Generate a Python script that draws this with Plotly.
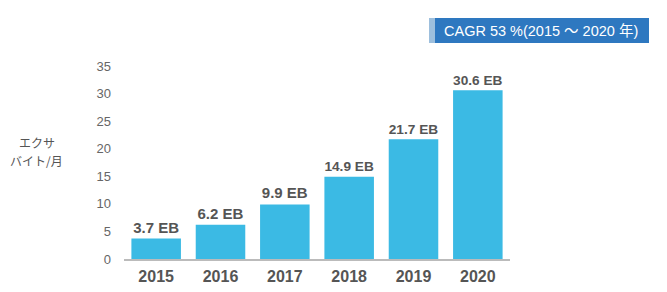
import plotly.graph_objects as go

years = ["2015", "2016", "2017", "2018", "2019", "2020"]
traffic_eb = [3.7, 6.2, 9.9, 14.9, 21.7, 30.6]
bar_labels = [f"{v} EB" for v in traffic_eb]
y_ticks = [0, 5, 10, 15, 20, 25, 30, 35]
y_title_lines = ["エクサ", "バイト/月"]
cagr_text = "CAGR 53 %(2015 ～ 2020 年)"

W, H = 667, 292
L, R = 124, 510
T, B = 66, 259

def px(x):
    return (x - L) / (R - L)

def py(y):
    return (B - y) / (B - T)

font_fam = "Liberation Sans, Arial, Noto Sans CJK JP, sans-serif"

fig = go.Figure(go.Bar(
    x=years, y=traffic_eb, text=bar_labels, textposition="outside",
    textfont=dict(family=font_fam, size=15, color="#555555", weight="bold"),
    marker=dict(color="#3BBAE4", line=dict(width=0)),
    cliponaxis=False,
))

fig.update_layout(
    width=W, height=H,
    margin=dict(l=L, r=W - R, t=T, b=H - B, autoexpand=False),
    plot_bgcolor="white", paper_bgcolor="white",
    bargap=0.23, showlegend=False,
    font=dict(family=font_fam, color="#555555"),
    xaxis=dict(showline=True, linecolor="#BBBBBB", linewidth=2, ticks="",
               showgrid=False, zeroline=False, ticklabelstandoff=2, automargin=False,
               tickfont=dict(size=16, color="#555555", weight="bold", family=font_fam)),
    yaxis=dict(range=[0, 35], tickvals=y_ticks, showgrid=False, zeroline=False,
               showline=False, ticks="", ticklabelstandoff=12, automargin=False,
               tickfont=dict(size=13, color="#666666", family=font_fam)),
    shapes=[
        dict(type="rect", xref="paper", yref="paper", x0=px(429), x1=px(435),
             y0=py(43), y1=py(18), fillcolor="#9DBFDD", line=dict(width=0)),
        dict(type="rect", xref="paper", yref="paper", x0=px(435), x1=px(649),
             y0=py(43), y1=py(18), fillcolor="#2E78C0", line=dict(width=0)),
    ],
    annotations=[
        dict(text=cagr_text, xref="paper", yref="paper", x=px(541), y=py(30.5),
             showarrow=False, xanchor="center", yanchor="middle",
             font=dict(size=14.5, color="white", family="Liberation Sans, Arial, Noto Sans CJK JP")),
        dict(text=y_title_lines[0], xref="paper", yref="paper", x=px(37), y=py(142),
             showarrow=False, xanchor="center", yanchor="middle",
             font=dict(size=12, color="#555555", family="Noto Sans CJK JP")),
        dict(text=y_title_lines[1], xref="paper", yref="paper", x=px(36), y=py(160),
             showarrow=False, xanchor="center", yanchor="middle",
             font=dict(size=12, color="#555555", family="Noto Sans CJK JP")),
    ],
)

fig.write_html("out.html")
